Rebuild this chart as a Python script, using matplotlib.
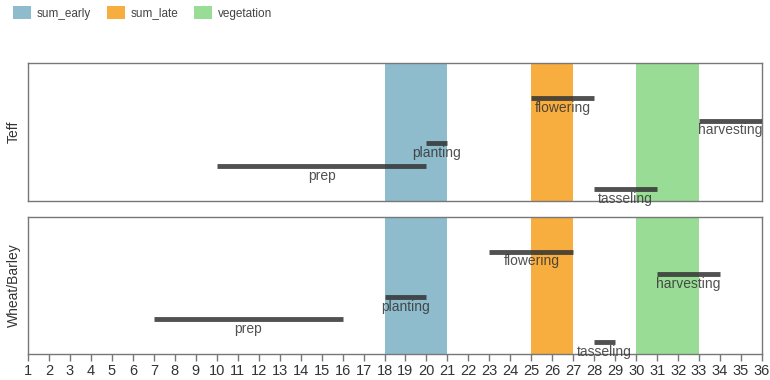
import matplotlib
matplotlib.use("Agg")
import matplotlib.pyplot as plt
from matplotlib.patches import Patch

plt.rcParams['font.family'] = ['Liberation Sans', 'DejaVu Sans']

# season bands
band_names = ["sum_early", "sum_late", "vegetation"]
band_start = [18, 25, 30]
band_end = [21, 27, 33]
band_colors = ["#8fbccc", "#f8ad3f", "#98dc96"]

# activities (alphabetical order = row order)
stages = ["flowering", "harvesting", "planting", "prep", "tasseling"]
crops = ["Teff", "Wheat/Barley"]
stage_start = {
    "Teff": [25, 33, 20, 10, 28],
    "Wheat/Barley": [23, 31, 18, 7, 28],
}
stage_end = {
    "Teff": [28, 36, 21, 20, 31],
    "Wheat/Barley": [27, 34, 20, 16, 29],
}
weeks = list(range(1, 37))

fig = plt.figure(figsize=(7.7, 3.8), dpi=100)
ax_top = fig.add_axes([28/770, 1 - 201/380, 734/770, 138/380])
ax_bot = fig.add_axes([28/770, 1 - 354/380, 734/770, 137/380])

for ax, crop in zip([ax_top, ax_bot], crops):
    for s, e, c in zip(band_start, band_end, band_colors):
        ax.axvspan(s, e, color=c, lw=0, zorder=1)
    for i, name in enumerate(stages):
        s = stage_start[crop][i]
        e = stage_end[crop][i]
        ax.plot([s, e], [i, i], color="#333333", alpha=0.85, lw=3.5,
                solid_capstyle="butt", zorder=3)
        ax.text((s + e) / 2, i + 0.12, name, ha="center", va="top",
                fontsize=10, color="#333333", alpha=0.85, zorder=4)
    ax.set_xlim(1, 36)
    ax.set_ylim(len(stages) - 0.47, -1.53)
    ax.set_yticks([])
    ax.set_ylabel(crop, fontsize=10, color="#333333", va="center")
    ax.yaxis.set_label_coords(-14/734, 0.5)
    for sp in ax.spines.values():
        sp.set_color("#777777")
        sp.set_linewidth(1.0)

ax_top.set_xticks([])
ax_bot.set_xticks(weeks)
ax_bot.tick_params(axis="x", length=5, width=1, color="#777777",
                   labelsize=10.5, labelcolor="#333333", pad=2)

handles = [Patch(facecolor=c, edgecolor="none") for c in band_colors]
fig.legend(handles, band_names, loc="upper left",
           bbox_to_anchor=(13/770, 1 - 6/380), borderpad=0, borderaxespad=0,
           ncol=3, frameon=False, fontsize=8.5, handlelength=1.55,
           handleheight=1.35, handletextpad=0.45, columnspacing=1.35,
           labelcolor="#444444")

fig.savefig("out.png", dpi=100)
